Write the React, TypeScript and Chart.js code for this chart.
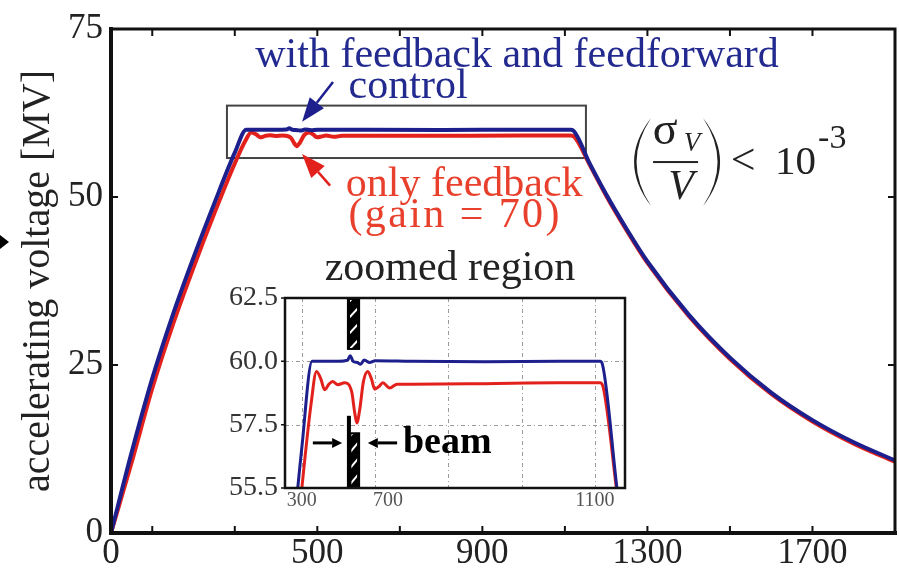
import React, { useEffect, useRef } from 'react';
import { Chart, registerables } from 'chart.js';
Chart.register(...registerables);

// ---------------- data ----------------
const blueT = [0, 50, 100, 150, 200, 250, 300, 328, 400, 425, 432, 440, 452, 460, 470, 485, 500, 600, 800, 1000, 1114, 1120, 1160, 1200, 1250, 1300, 1400, 1500, 1600, 1700, 1800, 1900];
const blueV = [0, 12, 23, 32.5, 41, 49, 56.6, 60, 60, 60.05, 60.22, 60, 59.95, 59.88, 60.05, 59.95, 60.02, 60, 59.98, 60, 60, 59.9, 55, 50.4, 45.2, 40.4, 32.5, 26.1, 20.9, 16.8, 13.5, 10.8];

const redT = [0, 50, 100, 150, 200, 250, 300, 325, 340, 352, 362, 374, 384, 398, 417, 436, 444, 450, 458, 468, 480, 490, 499, 510, 521, 540, 560, 600, 800, 1000, 1114, 1122, 1160, 1200, 1250, 1300, 1400, 1500, 1600, 1700, 1800, 1900];
const redV = [0, 10.5, 21.5, 31, 39.5, 47.5, 55, 58.3, 59.6, 59.3, 58.88, 59.1, 59.2, 59.08, 59.15, 58.8, 58.0, 57.57, 58.1, 59.2, 59.6, 59.3, 58.9, 59.0, 59.15, 58.95, 59.1, 59.1, 59.12, 59.15, 59.15, 59.0, 54.8, 50.2, 45.0, 40.2, 32.3, 25.9, 20.7, 16.6, 13.3, 10.6];

const xTicks = [0, 100, 300, 500, 700, 900, 1100, 1300, 1500, 1700, 1900];
const xLabels = [0, 500, 900, 1300, 1700];
const yTicks = [0, 25, 50, 75];

const insetYTicks = [55, 57.5, 60, 62.5];
const insetYLabels = ['55.5', '57.5', '60.0', '62.5'];
const insetXGrid = [300, 500, 700, 900, 1100];
const insetXLabelPos = [300, 535, 1100];
const insetXLabels = ['300', '700', '1100'];
const insetGridY = [57.5, 60];

const zoomBoxT = [281, 1151];
const zoomBoxV = [55.8, 63.6];

const beamUpperT = [423, 459];
const beamUpperV = [60.45, 62.5];
const beamLowerT = [427, 459];
const beamLowerV = [55, 57.2];
const beamLineV = [55, 57.85];

// ---------------- styles ----------------
const FONT = "'Liberation Serif', 'Times New Roman', serif";
const BLUE = '#1c1f8c';
const BLUE_TXT = '#232a8f';
const RED = '#e2211d';
const RED_TXT = '#e8402c';

function txt(ctx: CanvasRenderingContext2D, s: string, x: number, y: number, font: string, color: string, align: CanvasTextAlign = 'center', spacing = 0) {
  ctx.save();
  ctx.font = font;
  ctx.fillStyle = color;
  ctx.textAlign = align;
  ctx.textBaseline = 'alphabetic';
  (ctx as any).letterSpacing = `${spacing}px`;
  ctx.fillText(s, x, y);
  ctx.restore();
}

function arrow(ctx: CanvasRenderingContext2D, x0: number, y0: number, x1: number, y1: number, color: string, lw: number, headLen: number, headW: number) {
  const ang = Math.atan2(y1 - y0, x1 - x0);
  const bx = x1 - headLen * Math.cos(ang);
  const by = y1 - headLen * Math.sin(ang);
  ctx.strokeStyle = color;
  ctx.lineWidth = lw;
  ctx.beginPath();
  ctx.moveTo(x0, y0);
  ctx.lineTo(bx, by);
  ctx.stroke();
  ctx.fillStyle = color;
  ctx.beginPath();
  ctx.moveTo(x1, y1);
  ctx.lineTo(bx + headW * Math.sin(ang), by - headW * Math.cos(ang));
  ctx.lineTo(bx - headW * Math.sin(ang), by + headW * Math.cos(ang));
  ctx.closePath();
  ctx.fill();
}

function paren(ctx: CanvasRenderingContext2D, cx: number, cy: number, half: number, dir: number) {
  ctx.beginPath();
  ctx.moveTo(cx + 10 * dir, cy - half);
  ctx.quadraticCurveTo(cx - 24 * dir, cy, cx + 10 * dir, cy + half);
  ctx.quadraticCurveTo(cx - 19 * dir, cy, cx + 10 * dir, cy - half);
  ctx.closePath();
  ctx.fill();
}

const mainDeco = {
  id: 'mainDeco',
  beforeDatasetsDraw(chart: any) {
    const { ctx, scales: { x, y } } = chart;
    ctx.save();
    ctx.strokeStyle = '#444';
    ctx.lineWidth = 2;
    const x0 = x.getPixelForValue(zoomBoxT[0]);
    const x1 = x.getPixelForValue(zoomBoxT[1]);
    const y0 = y.getPixelForValue(zoomBoxV[1]);
    const y1 = y.getPixelForValue(zoomBoxV[0]);
    ctx.strokeRect(x0, y0, x1 - x0, y1 - y0);
    ctx.restore();
  },
  afterDraw(chart: any) {
    const { ctx, chartArea: { left, right, top, bottom }, scales: { x, y } } = chart;
    ctx.save();
    ctx.strokeStyle = '#111';
    ctx.lineCap = 'square';
    ctx.lineWidth = 3;
    ctx.beginPath();
    ctx.moveTo(left, top); ctx.lineTo(right, top); ctx.lineTo(right, bottom);
    ctx.stroke();
    ctx.lineWidth = 4;
    ctx.beginPath();
    ctx.moveTo(left, top); ctx.lineTo(left, bottom); ctx.lineTo(right, bottom);
    ctx.stroke();
    ctx.lineWidth = 2;
    ctx.lineCap = 'butt';
    ctx.beginPath();
    xTicks.forEach((v) => {
      if (v === x.min || v === x.max) return;
      const px = x.getPixelForValue(v);
      ctx.moveTo(px, bottom); ctx.lineTo(px, bottom - 7);
      ctx.moveTo(px, top); ctx.lineTo(px, top + 7);
    });
    yTicks.forEach((v) => {
      if (v === y.min || v === y.max) return;
      const py = y.getPixelForValue(v);
      ctx.moveTo(left, py); ctx.lineTo(left + 7, py);
      ctx.moveTo(right, py); ctx.lineTo(right - 7, py);
    });
    ctx.stroke();

    const P = (t: number, v: number) => [x.getPixelForValue(t), y.getPixelForValue(v)];

    const [b1x, b1y] = P(984, 69.3);
    txt(ctx, 'with feedback and feedforward', b1x, b1y, `42px ${FONT}`, BLUE_TXT);
    const [b2x, b2y] = P(720, 64.7);
    txt(ctx, 'control', b2x, b2y, `42px ${FONT}`, BLUE_TXT);
    const [ba0x, ba0y] = P(538, 67.1);
    const [ba1x, ba1y] = P(463, 61.2);
    arrow(ctx, ba0x, ba0y, ba1x, ba1y, BLUE, 2.5, 24, 9);

    const [r1x, r1y] = P(856, 50.2);
    txt(ctx, 'only feedback', r1x, r1y, `42px ${FONT}`, RED_TXT);
    const [r2x, r2y] = P(834, 45.6);
    txt(ctx, '(gain = 70)', r2x, r2y, `42px ${FONT}`, RED_TXT, 'center', 2.4);
    const [ra0x, ra0y] = P(531, 51.7);
    const [ra1x, ra1y] = P(463, 56.4);
    arrow(ctx, ra0x, ra0y, ra1x, ra1y, RED, 2.5, 24, 9);

    const [fx, fy] = P(1367, 55.2);
    ctx.fillStyle = '#222';
    paren(ctx, fx - 34, fy, 44, 1);
    paren(ctx, fx + 38, fy, 44, -1);
    txt(ctx, 'σ', fx - 10, fy - 18, `46px ${FONT}`, '#222');
    txt(ctx, 'V', fx + 17, fy - 11, `italic 27px ${FONT}`, '#222');
    ctx.fillStyle = '#222';
    ctx.fillRect(fx - 22, fy - 1, 45, 2);
    txt(ctx, 'V', fx + 6, fy + 37, `italic 42px ${FONT}`, '#222');
    txt(ctx, '<', fx + 68, fy + 12, `44px ${FONT}`, '#222');
    txt(ctx, '10', fx + 100, fy + 12, `41px ${FONT}`, '#222', 'left');
    txt(ctx, '-3', fx + 143, fy - 14, `34px ${FONT}`, '#222', 'left');

    ctx.fillStyle = '#000';
    ctx.beginPath();
    ctx.moveTo(0, 235); ctx.lineTo(9, 242); ctx.lineTo(0, 249);
    ctx.closePath();
    ctx.fill();
    ctx.restore();
  },
};

function hatchRect(ctx: CanvasRenderingContext2D, x0: number, y0: number, x1: number, y1: number) {
  ctx.save();
  ctx.fillStyle = '#000';
  ctx.fillRect(x0, y0, x1 - x0, y1 - y0);
  ctx.beginPath();
  ctx.rect(x0 + 3, y0 + 2, x1 - x0 - 6, y1 - y0 - 4);
  ctx.clip();
  ctx.strokeStyle = '#fff';
  ctx.lineWidth = 2;
  ctx.beginPath();
  for (let yy = y0 - 40; yy < y1 + 40; yy += 16) {
    ctx.moveTo(x0, yy + 14);
    ctx.lineTo(x1, yy);
  }
  ctx.stroke();
  ctx.restore();
}

const insetDeco = {
  id: 'insetDeco',
  beforeDatasetsDraw(chart: any) {
    const { ctx, chartArea: { left, right, top, bottom }, scales: { x, y } } = chart;
    ctx.save();
    ctx.fillStyle = '#fff';
    ctx.fillRect(left, top, right - left, bottom - top);
    ctx.strokeStyle = '#9a9a9a';
    ctx.lineWidth = 1;
    ctx.setLineDash([4, 3, 1, 3]);
    ctx.beginPath();
    insetXGrid.forEach((v) => {
      const px = Math.round(x.getPixelForValue(v)) + 0.5;
      ctx.moveTo(px, top); ctx.lineTo(px, bottom);
    });
    insetGridY.forEach((v) => {
      const py = Math.round(y.getPixelForValue(v)) + 0.5;
      ctx.moveTo(left, py); ctx.lineTo(right, py);
    });
    ctx.stroke();
    ctx.restore();
  },
  afterDatasetsDraw(chart: any) {
    const { ctx, chartArea: { left, right, top, bottom }, scales: { x, y } } = chart;
    ctx.save();
    hatchRect(ctx, x.getPixelForValue(beamUpperT[0]), y.getPixelForValue(beamUpperV[1]), x.getPixelForValue(beamUpperT[1]), y.getPixelForValue(beamUpperV[0]));
    hatchRect(ctx, x.getPixelForValue(beamLowerT[0]), y.getPixelForValue(beamLowerV[1]), x.getPixelForValue(beamLowerT[1]), y.getPixelForValue(beamLowerV[0]));
    ctx.fillStyle = '#000';
    const lx = x.getPixelForValue(beamUpperT[0]);
    ctx.fillRect(lx, y.getPixelForValue(beamLineV[1]), 4, y.getPixelForValue(beamLineV[0]) - y.getPixelForValue(beamLineV[1]));
    const ay = y.getPixelForValue(56.78);
    arrow(ctx, x.getPixelForValue(330), ay, x.getPixelForValue(410), ay, '#000', 3, 10, 5);
    arrow(ctx, x.getPixelForValue(560), ay, x.getPixelForValue(480), ay, '#000', 3, 10, 5);
    txt(ctx, 'beam', x.getPixelForValue(576), y.getPixelForValue(56.38), `bold 38px ${FONT}`, '#000', 'left');
    ctx.strokeStyle = '#111';
    ctx.lineWidth = 2.5;
    ctx.strokeRect(left, top, right - left, bottom - top);
    ctx.lineWidth = 1.5;
    ctx.beginPath();
    insetYTicks.forEach((v) => {
      const py = y.getPixelForValue(v);
      ctx.moveTo(left - 4, py); ctx.lineTo(left, py);
    });
    ctx.stroke();
    insetXLabelPos.forEach((v, i) => {
      txt(ctx, insetXLabels[i], x.getPixelForValue(v), bottom + 18, `20px ${FONT}`, '#555');
    });
    txt(ctx, 'zoomed region', (left + right) / 2 - 5, top - 18, `42px ${FONT}`, '#222');
    ctx.restore();
  },
};

export default function App() {
  const mainRef = useRef<HTMLCanvasElement>(null);
  const insetRef = useRef<HTMLCanvasElement>(null);

  useEffect(() => {
    document.body.style.margin = '0';
    const blue = blueT.map((t, i) => ({ x: t, y: blueV[i] }));
    const red = redT.map((t, i) => ({ x: t, y: redV[i] }));

    const main = new Chart(mainRef.current as HTMLCanvasElement, {
      type: 'line',
      data: {
        datasets: [
          { data: blue, borderColor: BLUE, borderWidth: 4, pointRadius: 0, cubicInterpolationMode: 'monotone' },
          { data: red, borderColor: RED, borderWidth: 4, pointRadius: 0, cubicInterpolationMode: 'monotone' },
        ],
      },
      options: {
        animation: false,
        responsive: false,
        devicePixelRatio: 1,
        layout: { padding: { top: 21, right: 4, left: 0, bottom: 0 } },
        plugins: { legend: { display: false }, tooltip: { enabled: false } },
        scales: {
          x: {
            type: 'linear',
            min: 0,
            max: 1900,
            afterBuildTicks: (s: any) => { s.ticks = xTicks.map((v) => ({ value: v })); },
            afterFit: (s: any) => { s.height = 36; },
            grid: { display: false, drawTicks: false },
            border: { display: false },
            ticks: {
              autoSkip: false,
              maxRotation: 0,
              padding: 0,
              font: { family: FONT, size: 35 },
              color: '#222',
              callback: (v: any) => (xLabels.includes(Number(v)) ? String(v) : ''),
            },
          },
          y: {
            type: 'linear',
            min: 0,
            max: 75,
            afterBuildTicks: (s: any) => { s.ticks = yTicks.map((v) => ({ value: v })); },
            afterFit: (s: any) => { s.width = 111; },
            grid: { display: false, drawTicks: false },
            border: { display: false },
            ticks: { padding: 8, font: { family: FONT, size: 35 }, color: '#222' },
            title: {
              display: true,
              text: 'accelerating voltage [MV]',
              font: { family: FONT, size: 40 },
              color: '#222',
              padding: { top: 14, bottom: 0 },
            },
          },
        },
      } as any,
      plugins: [mainDeco],
    });

    const inset = new Chart(insetRef.current as HTMLCanvasElement, {
      type: 'line',
      data: {
        datasets: [
          { data: blue, borderColor: BLUE, borderWidth: 3, pointRadius: 0, cubicInterpolationMode: 'monotone' },
          { data: red, borderColor: RED, borderWidth: 3, pointRadius: 0, cubicInterpolationMode: 'monotone' },
        ],
      },
      options: {
        animation: false,
        responsive: false,
        devicePixelRatio: 1,
        layout: { padding: { top: 48, right: 15, left: 0, bottom: 32 } },
        plugins: { legend: { display: false }, tooltip: { enabled: false } },
        scales: {
          x: { type: 'linear', min: 254, max: 1182, display: false },
          y: {
            type: 'linear',
            min: 55,
            max: 62.5,
            afterBuildTicks: (s: any) => { s.ticks = insetYTicks.map((v) => ({ value: v })); },
            afterFit: (s: any) => { s.width = 85; },
            grid: { display: false, drawTicks: false },
            border: { display: false },
            ticks: {
              padding: 7,
              font: { family: FONT, size: 28 },
              color: '#333',
              callback: (v: any) => {
                const i = insetYTicks.indexOf(Number(v));
                return i >= 0 ? insetYLabels[i] : '';
              },
            },
          },
        },
      } as any,
      plugins: [insetDeco],
    });

    return () => {
      main.destroy();
      inset.destroy();
    };
  }, []);

  return (
    <div style={{ position: 'fixed', left: 0, top: 0, width: 899, height: 569, background: '#fff' }}>
      <canvas ref={mainRef} width={899} height={569} style={{ position: 'absolute', left: 0, top: 0 }} />
      <canvas ref={insetRef} width={440} height={270} style={{ position: 'absolute', left: 200, top: 250 }} />
    </div>
  );
}
